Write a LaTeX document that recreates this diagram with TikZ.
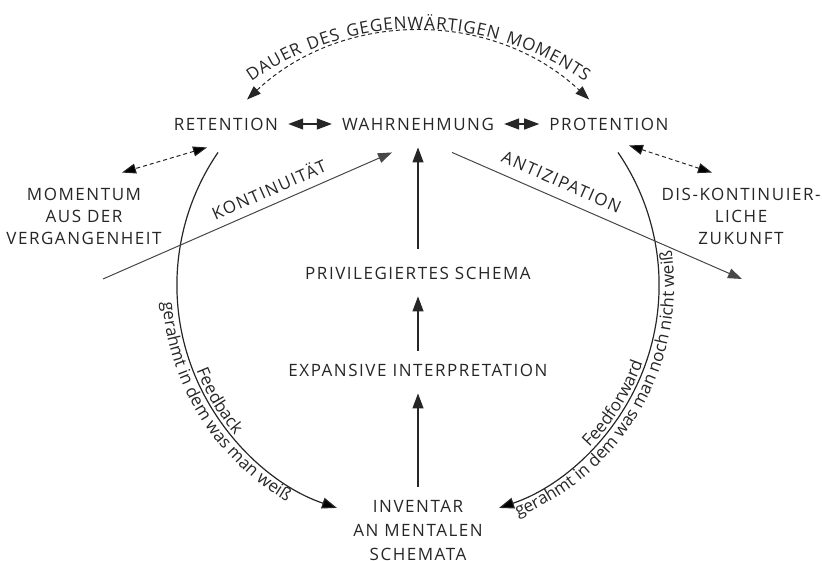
\documentclass[tikz,border=0pt]{standalone}
\usepackage{fontspec}
\setmainfont{Open Sans}
\newfontfamily\capsfont[LetterSpace=9]{Open Sans}
\usepackage{tikz}
\usetikzlibrary{arrows.meta}
\usetikzlibrary{decorations.text}
\definecolor{ink}{HTML}{262626}
\definecolor{lead}{HTML}{474747}

\begin{document}
\begin{tikzpicture}[x=1pt,y=1pt,
  concept/.style={font=\capsfont\fontsize{17}{22}\selectfont,text=ink,inner sep=0pt,align=center},
  tag/.style={font=\capsfont\fontsize{17}{22}\selectfont,text=ink,inner sep=0pt},
  tip/.style={-{Triangle[length=15pt,width=11pt]}},
  flow/.style={tip,draw=ink,line width=1.2pt,shorten <=13pt,shorten >=17pt},
  swap/.style={{Triangle[length=15pt,width=11pt]}-{Triangle[length=15pt,width=11pt]},draw=ink,line width=1.2pt,shorten <=10pt,shorten >=10pt},
  span/.style={{Triangle[length=14pt,width=10pt]}-{Triangle[length=14pt,width=10pt]},draw=ink,line width=1pt,dash pattern=on 4pt off 3pt},
  loop/.style={tip,draw=ink,line width=1.2pt},
  trend/.style={-{Triangle[length=14pt,width=10pt]},draw=lead,line width=1pt},
  bend text/.style={decorate,decoration={text along path,text align=center,text color=ink,text={#1}}}
]
  \useasboundingbox (0,0) rectangle (822,560);
  \node[concept] (ret) at (226,436) {RETENTION};
  \node[concept] (wahr) at (418,436) {WAHRNEHMUNG};
  \node[concept] (prot) at (609,436) {PROTENTION};
  \node[concept] (priv) at (418,287) {PRIVILEGIERTES SCHEMA};
  \node[concept] (expa) at (418,190) {EXPANSIVE INTERPRETATION};
  \node[concept,font=\capsfont\fontsize{17}{24}\selectfont] (inv) at (418,30) {INVENTAR\\AN MENTALEN\\SCHEMATA};
  \node[concept] (mom) at (84,344) {MOMENTUM\\AUS DER\\VERGANGENHEIT};
  \node[concept] (dis) at (741,344) {DIS-KONTINUIER-\\LICHE\\ZUKUNFT};
  \coordinate (kstart) at (103,281);
  \coordinate (aend) at (742,281);

  \draw[swap] (ret) -- (wahr);
  \draw[swap] (wahr) -- (prot);
  \draw[flow] (inv) -- (expa);
  \draw[flow] (expa) -- (priv);
  \draw[flow,shorten <=18pt] (priv) -- (wahr);

  \draw[span] ([xshift=21pt,yshift=18pt]ret.north) arc[start angle=133.2,end angle=46.8,radius=250];
  {\capsfont\fontsize{17}{22}\selectfont
  \path[bend text={|\kern0.8pt|DAUER DES GEGENWÄRTIGEN MOMENTS}]
    ({418+290*cos(140)},{241+290*sin(140)}) arc[start angle=140,end angle=40,radius=290];}
  \draw[span] ([xshift=-19pt,yshift=-17pt]ret.south) -- ([xshift=38pt,yshift=15pt]mom.north);
  \draw[span] ([xshift=20pt,yshift=-15pt]prot.south) -- ([xshift=-29pt,yshift=15pt]dis.north);

  \draw[loop] ([xshift=-8pt,yshift=-22pt]ret.south) arc[start angle=145.6,end angle=251.4,radius=235];
  \draw[loop] ([xshift=9pt,yshift=-22pt]prot.south) arc[start angle=34.4,end angle=-71.4,radius=235];
  {\fontsize{17}{22}\selectfont
  \path[bend text={Feedback}]
    ({412+232*cos(190)},{275+232*sin(190)}) arc[start angle=190,end angle=232,radius=232];
  \path[bend text={gerahmt in dem was man weiß}]
    ({412+250*cos(170)},{275+250*sin(170)}) arc[start angle=170,end angle=254,radius=250];
  \path[bend text={Feedforward}]
    ({424+232*cos(-55)},{275+232*sin(-55)}) arc[start angle=-55,end angle=-9,radius=232];
  \path[bend text={gerahmt in dem was man noch nicht weiß}]
    ({424+250*cos(-75)},{275+250*sin(-75)}) arc[start angle=-75,end angle=15,radius=250];}

  \draw[trend] (kstart) -- ([xshift=-26pt,yshift=-22pt]wahr.south)
    node[pos=0.595,sloped,above=8pt,tag] {KONTINUITÄT};
  \draw[trend] ([xshift=34pt,yshift=-22pt]wahr.south) -- (aend)
    node[pos=0.355,sloped,above=10pt,tag] {ANTIZIPATION};
\end{tikzpicture}
\end{document}
